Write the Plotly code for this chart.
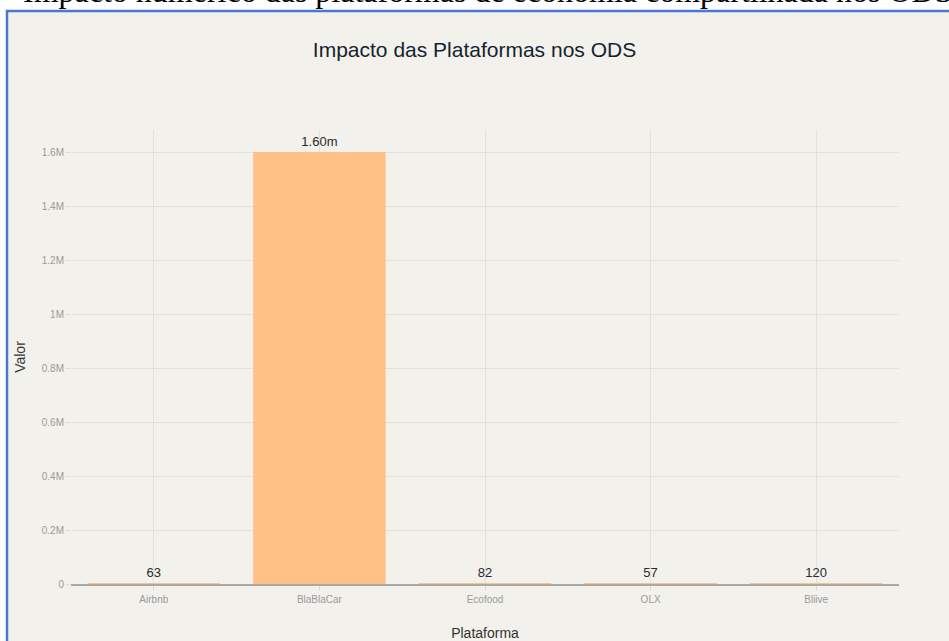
import plotly.graph_objects as go

categories = ["Airbnb", "BlaBlaCar", "Ecofood", "OLX", "Bliive"]
values = [63, 1600000, 82, 57, 120]
value_labels = ["63", "1.60m", "82", "57", "120"]
bar_color = "#FFC185"
y_tickvals = [0, 200000, 400000, 600000, 800000, 1000000, 1200000, 1400000, 1600000]
y_ticktext = ["0", "0.2M", "0.4M", "0.6M", "0.8M", "1M", "1.2M", "1.4M", "1.6M"]
chart_title = "Impacto das Plataformas nos ODS"
caption = "Impacto numérico das plataformas de economia compartilhada nos ODS"

W, H = 949, 641
L, R, T, B = 71, 50, 130, 57
pw = W - L - R
ph = H - T - B

def px_x(px):
    return (px - L) / pw

def px_y(py):
    return (H - B - py) / ph

BG = "#F2F1EC"
FONT = "Liberation Sans, Arial, sans-serif"

fig = go.Figure(
    go.Bar(
        x=categories,
        y=values,
        marker=dict(color=bar_color, line=dict(width=0)),
        text=value_labels,
        textposition="outside",
        textfont=dict(size=13, color="#2b2b2b", family=FONT),
        cliponaxis=False,
    )
)

fig.update_layout(
    width=W,
    height=H,
    margin=dict(l=L, r=R, t=T, b=B, pad=0, autoexpand=False),
    paper_bgcolor="white",
    plot_bgcolor="rgba(0,0,0,0)",
    bargap=0.2,
    showlegend=False,
    font=dict(family=FONT),
    title=dict(
        text=chart_title,
        x=0.5,
        xanchor="center",
        y=1 - 50 / H,
        yanchor="middle",
        font=dict(size=21, color="#16232d", family=FONT),
    ),
    shapes=[
        dict(
            type="rect",
            xref="paper",
            yref="paper",
            x0=px_x(7),
            x1=px_x(980),
            y0=px_y(680),
            y1=px_y(11),
            fillcolor=BG,
            line=dict(color="#4a78cf", width=2.5),
            layer="below",
        )
    ],
    annotations=[
        dict(
            text=caption,
            xref="paper",
            yref="paper",
            x=px_x(21),
            y=px_y(-9),
            xanchor="left",
            yanchor="middle",
            showarrow=False,
            font=dict(size=32, color="black", family="Liberation Serif, Times New Roman, serif"),
        )
    ],
)

fig.update_xaxes(
    title=dict(text="Plataforma", font=dict(size=14, color="#333333"), standoff=27),
    automargin=False,
    tickfont=dict(size=10, color="#9a9a9a"),
    showgrid=True,
    gridcolor="#E1E0DB",
    gridwidth=1,
    ticks="outside",
    ticklen=5,
    tickcolor="#DCDBD6",
    showline=True,
    linecolor="#A9A9A6",
    linewidth=2,
)

fig.update_yaxes(
    title=dict(text="Valor", font=dict(size=14, color="#333333"), standoff=12),
    automargin=False,
    range=[0, 1681500],
    tickvals=y_tickvals,
    ticktext=y_ticktext,
    tickfont=dict(size=10, color="#9a9a9a"),
    showgrid=True,
    gridcolor="#E1E0DB",
    gridwidth=1,
    ticks="outside",
    ticklen=4,
    tickcolor="#DCDBD6",
    zeroline=False,
    showline=False,
)

fig.write_html(
    "out.html",
    config={"displayModeBar": False},
    post_script="document.body.style.margin='0';document.body.style.overflow='hidden';",
)
